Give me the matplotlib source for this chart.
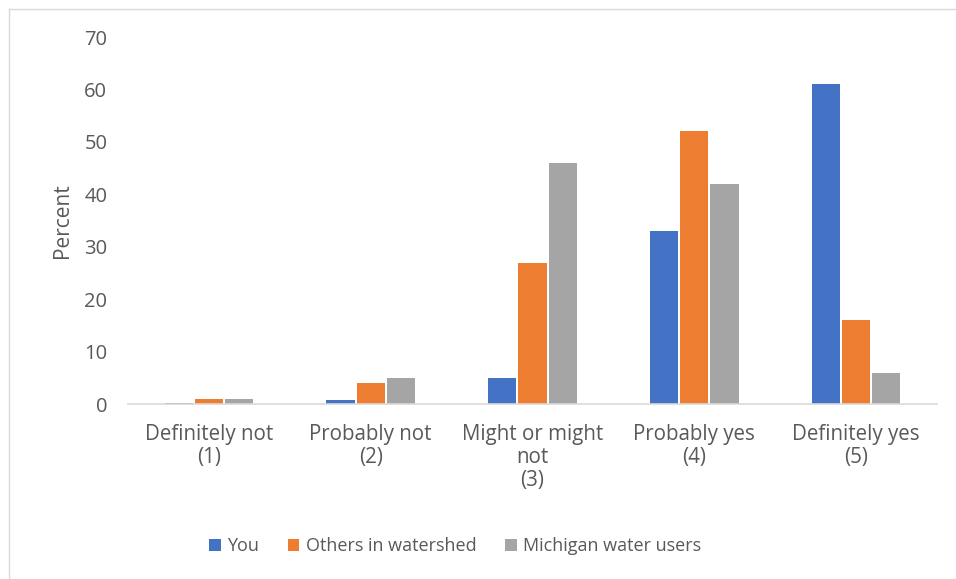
import numpy as np
import matplotlib.pyplot as plt
from matplotlib.lines import Line2D

categories = ["Definitely not\n(1)", "Probably not\n(2)", "Might or might\nnot\n(3)",
              "Probably yes\n(4)", "Definitely yes\n(5)"]
series_names = ["You", "Others in watershed", "Michigan water users"]
you = [0.3, 0.8, 5, 33, 61]
others = [1, 4, 27, 52, 16]
michigan = [1, 5, 46, 42, 6]
yticks = [0, 10, 20, 30, 40, 50, 60, 70]

colors = ["#4472C4", "#ED7D31", "#A5A5A5"]
text_color = "#595959"

plt.rcParams['font.family'] = ['Open Sans', 'DejaVu Sans']

fig = plt.figure(figsize=(9.56, 5.79), dpi=100)
ax = fig.add_axes([0.134, 0.302, 0.846, 0.634])

x = np.arange(len(categories))
w = 0.175
step = 0.187
for i, (vals, name) in enumerate(zip([you, others, michigan], series_names)):
    ax.bar(x + (i - 1) * step, vals, w, color=colors[i], label=name, zorder=2)

ax.set_xlim(-0.5, len(categories) - 0.5)
ax.set_ylim(0, 70)
ax.set_yticks(yticks)
ax.set_xticks(x)
ax.set_xticklabels(categories, fontsize=14.8, color=text_color, va='top', linespacing=1.15)
ax.tick_params(axis='y', labelsize=14.5, labelcolor=text_color, length=0, pad=15)
ax.tick_params(axis='x', length=0, pad=14)
ax.set_ylabel("Percent", fontsize=15, color=text_color, labelpad=8)

for s in ["top", "right", "left"]:
    ax.spines[s].set_visible(False)
ax.spines["bottom"].set_color("#D9D9D9")
ax.spines["bottom"].set_linewidth(1.2)

handles, labels = ax.get_legend_handles_labels()
fig.legend(handles, labels, loc='center', bbox_to_anchor=(0.476, 0.057), ncol=3,
           frameon=False, fontsize=13, labelcolor=text_color,
           handlelength=0.65, handleheight=0.65, handletextpad=0.35, columnspacing=1.6)

# chart border (top and left edges visible in the crop)
fig.add_artist(Line2D([0.009, 1.0], [0.985, 0.985], transform=fig.transFigure,
                      color="#D9D9D9", lw=1))
fig.add_artist(Line2D([0.009, 0.009], [0.0, 0.985], transform=fig.transFigure,
                      color="#D9D9D9", lw=1))

fig.savefig("out.png", dpi=100)
